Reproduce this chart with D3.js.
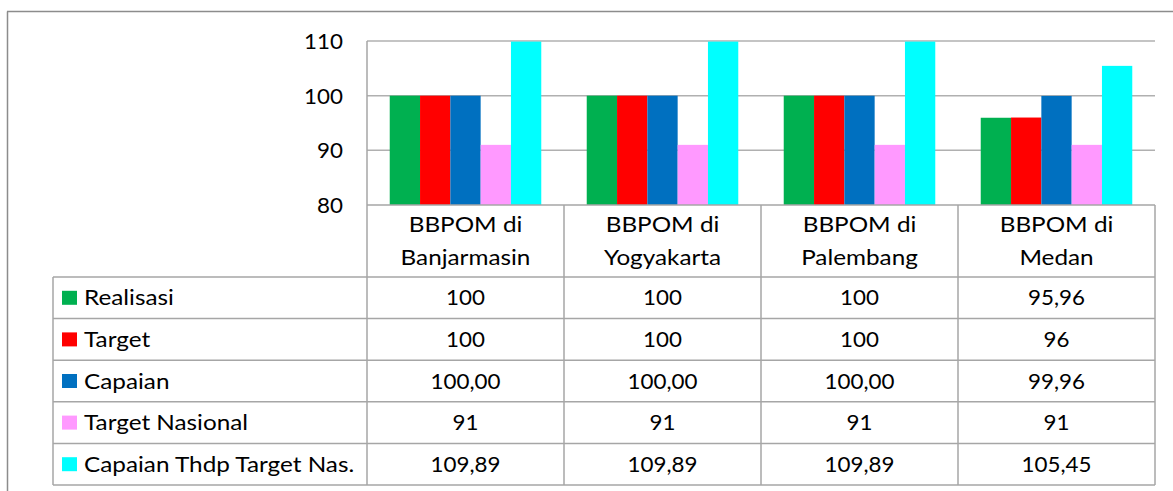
<!DOCTYPE html>
<html>
<head>
<meta charset="utf-8">
<script src="https://cdn.jsdelivr.net/npm/d3@7"></script>
<style>
html,body{margin:0;padding:0;background:#fff;}
svg{display:block;}
text{font-family:Lato, Carlito, "Liberation Sans", sans-serif;fill:#000;}
</style>
</head>
<body>
<svg id="chart" width="1173" height="491"></svg>
<script>
const categories = [["BBPOM di","Banjarmasin"],["BBPOM di","Yogyakarta"],["BBPOM di","Palembang"],["BBPOM di","Medan"]];
const seriesNames = ["Realisasi","Target","Capaian","Target Nasional","Capaian Thdp Target Nas."];
const seriesColors = ["#00B050","#FF0000","#0070C0","#FF99FF","#00FFFF"];
const realisasi = [100,100,100,95.96];
const target = [100,100,100,96];
const capaian = [100,100,100,99.96];
const targetNasional = [91,91,91,91];
const capaianThdp = [109.89,109.89,109.89,105.45];
const seriesDecimals = [null,null,2,null,2];
const yTicks = [80,90,100,110];

const seriesValues = [realisasi,target,capaian,targetNasional,capaianThdp];

const svg = d3.select("#chart");
const plotL = 367, plotR = 1155, plotT = 41, plotB = 205;
const tableL = 53, headerB = 277, rowH = 41.6;
const fontSize = 21.5, sxWord = 1.13, sxNum = 1.04;
const lineCol = "#a6a6a6";

function addText(g, x, yv, str, anchor, sx){
  return g.append("text")
    .attr("transform",`translate(${x},${yv}) scale(${sx},1)`)
    .attr("text-anchor",anchor||"start")
    .style("font-size",fontSize+"px")
    .text(str);
}

// outer frame
svg.append("line").attr("x1",7.5).attr("x2",7.5).attr("y1",11.5).attr("y2",491).attr("stroke","#8c8c8c").attr("stroke-width",1.5);
svg.append("line").attr("x1",7).attr("x2",1173).attr("y1",11.5).attr("y2",11.5).attr("stroke","#8c8c8c").attr("stroke-width",1.5);

const x0 = d3.scaleBand().domain(d3.range(categories.length)).range([plotL,plotR]).paddingInner(0).paddingOuter(0);
const x1 = d3.scaleBand().domain(d3.range(seriesNames.length)).range([0,x0.bandwidth()]).paddingInner(0).paddingOuter(0.75);
const y = d3.scaleLinear().domain([80,110]).range([plotB,plotT]);

// gridlines
const grid = svg.append("g").attr("class","grid");
grid.selectAll("line").data(yTicks.filter(t=>t>80)).join("line")
  .attr("x1",plotL).attr("x2",plotR)
  .attr("y1",d=>y(d)).attr("y2",d=>y(d))
  .attr("stroke","#b0b0b0").attr("stroke-width",1.5);

// bars
const groups = svg.append("g").selectAll("g").data(categories).join("g")
  .attr("transform",(d,i)=>`translate(${x0(i)},0)`);
groups.selectAll("rect").data((d,i)=>seriesValues.map((s,k)=>({k,v:Math.min(s[i],110)}))).join("rect")
  .attr("x",d=>x1(d.k)).attr("width",x1.bandwidth())
  .attr("y",d=>y(d.v)).attr("height",d=>y(80)-y(d.v))
  .attr("fill",d=>seriesColors[d.k]);

// y axis
const pad = 24;
const yAxis = d3.axisLeft(y).tickValues(yTicks).tickSize(0).tickPadding(pad).tickFormat(d3.format("d"));
const ya = svg.append("g").attr("transform",`translate(${plotL},0)`).call(yAxis);
ya.select(".domain").remove();
ya.selectAll("text")
  .attr("x",null).attr("dy",null)
  .attr("transform",`translate(${-pad},7.5) scale(${sxNum},1)`)
  .style("font-size",fontSize+"px").style("font-family","Lato, Carlito, sans-serif");

// table lines
const T = svg.append("g").attr("stroke",lineCol).attr("stroke-width",1.5);
const colEdges = d3.range(categories.length+1).map(i=>i<categories.length?x0(i):plotR);
const tableB = headerB+rowH*seriesNames.length;
T.append("line").attr("x1",plotL).attr("x2",plotL).attr("y1",plotT).attr("y2",tableB);
colEdges.slice(1).forEach(xe=>{
  T.append("line").attr("x1",xe).attr("x2",xe).attr("y1",plotB).attr("y2",tableB);
});
T.append("line").attr("x1",tableL).attr("x2",tableL).attr("y1",headerB).attr("y2",tableB);
T.append("line").attr("x1",plotL).attr("x2",plotR).attr("y1",plotB).attr("y2",plotB);
d3.range(seriesNames.length+1).forEach(r=>{
  const yy = headerB + r*rowH;
  T.append("line").attr("x1",tableL).attr("x2",plotR).attr("y1",yy).attr("y2",yy);
});

// header labels
const hdr = svg.append("g");
categories.forEach((lines,i)=>{
  const cx = x0(i)+x0.bandwidth()/2;
  lines.forEach((ln,j)=>addText(hdr, cx, 232+j*33, ln, "middle", sxWord));
});

// rows
const fmtVal = (v,dec)=>{
  const s = dec==null ? String(v) : v.toFixed(dec);
  return s.replace(".",",");
};
const body = svg.append("g");
seriesNames.forEach((name,k)=>{
  const top = headerB + k*rowH;
  const cy = top + rowH/2;
  body.append("rect").attr("x",62).attr("y",cy-7).attr("width",15).attr("height",14).attr("fill",seriesColors[k]);
  addText(body, 84, cy+7.5, name, "start", sxWord);
  seriesValues[k].forEach((v,i)=>{
    addText(body, x0(i)+x0.bandwidth()/2, cy+7.5, fmtVal(v,seriesDecimals[k]), "middle", sxNum);
  });
});
</script>
</body>
</html>
